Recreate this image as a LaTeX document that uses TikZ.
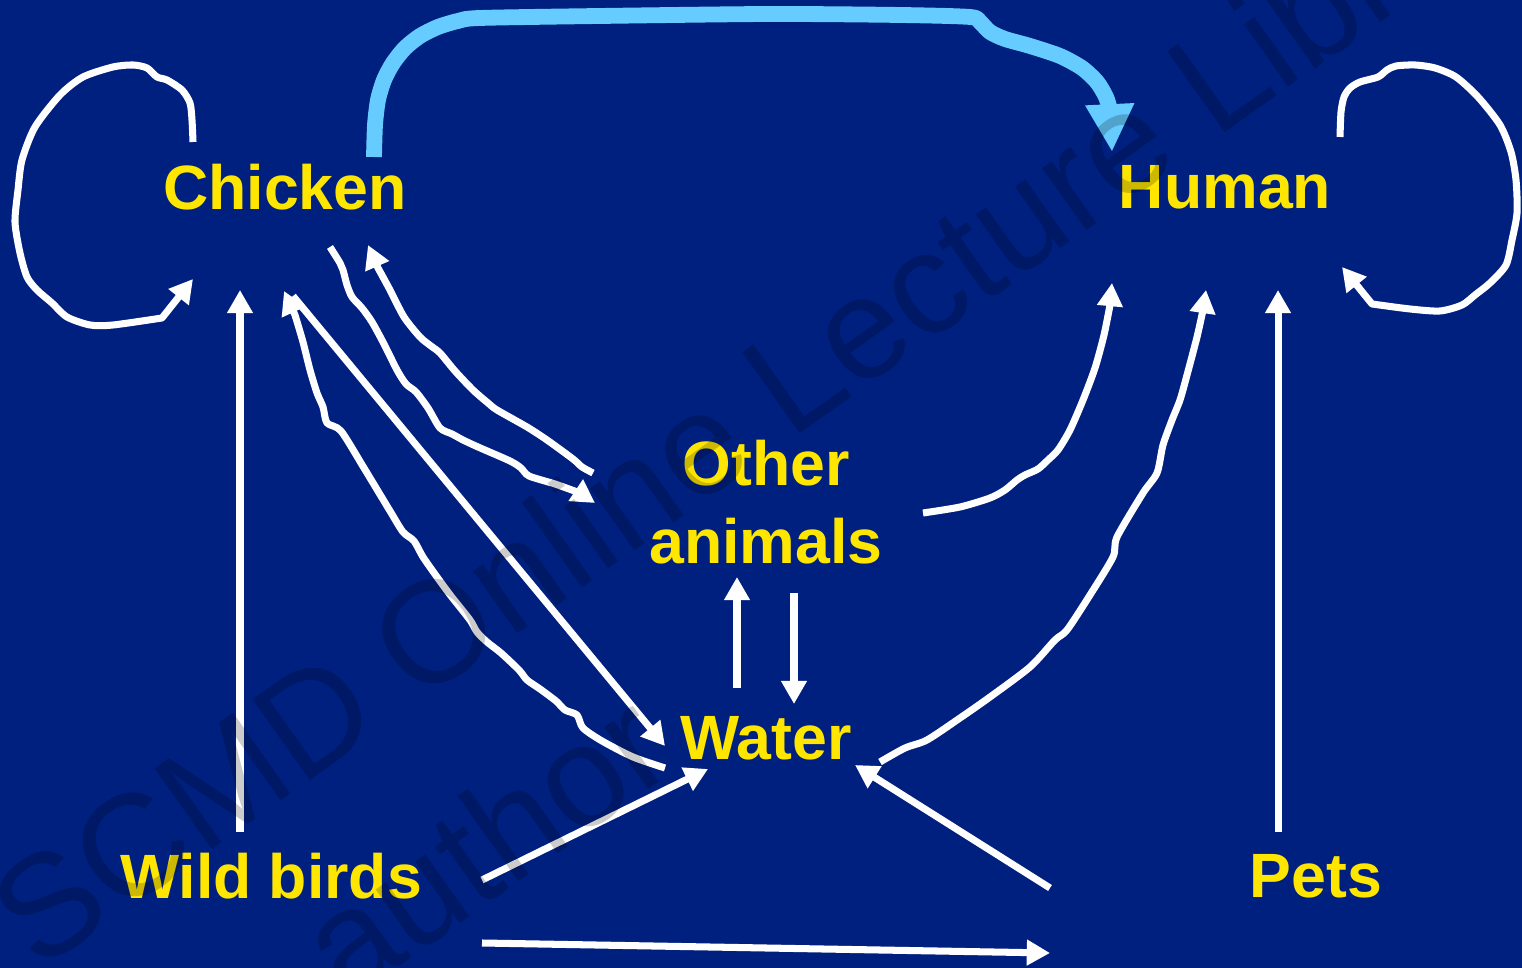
\documentclass[tikz,border=0pt]{standalone}
\usepackage{fontspec}
\setmainfont{Liberation Sans}
\usetikzlibrary{arrows.meta}
\definecolor{bgblue}{RGB}{0,32,128}
\definecolor{hostyel}{RGB}{255,230,0}
\definecolor{flowblue}{RGB}{102,204,255}
\tikzset{
  lbl/.style={font=\fontsize{17.8}{22}\selectfont\bfseries, text=hostyel, inner sep=0pt, align=center},
  warr/.style={-{Triangle[length=6.6pt, width=7pt]}, white, line width=2pt, line join=round},
  barr/.style={-{Triangle[length=13.6pt, width=13pt]}, flowblue, line width=4.5pt, line join=round},
  wob/.style={smooth, tension=0.45},
  wmark/.style={font=\fontsize{41}{49}\selectfont, text=black, text opacity=0.2,
      anchor=base west, rotate=35.3, inner sep=0pt},
}

\begin{document}
\begin{tikzpicture}[x=0.01cm, y=-0.01cm]
\fill[bgblue] (0,0) rectangle (1522,968);
\useasboundingbox (0,0) rectangle (1522,968);
\clip (0,0) rectangle (1522,968);
%---- hosts and reservoirs
\node[lbl] (chicken) at (285,187) {Chicken};
\node[lbl] (human) at (1225,187) {Human};
\node[lbl] (other) at (766,502) {Other\\animals};
\node[lbl] (water) at (766,738) {Water};
\node[lbl] (wild) at (271,876) {Wild birds};
\node[lbl] (pets) at (1316,876) {Pets};
%---- arrow ends
\coordinate (chkLoopA) at (193,142);  \coordinate (chkLoopB) at (193,279);
\coordinate (humLoopA) at (1340,137); \coordinate (humLoopB) at (1342,267);
\coordinate (blueA) at (374,157);     \coordinate (blueB) at (1112,152);
\coordinate (chkOthA) at (330,247);   \coordinate (chkOthB) at (595,503);
\coordinate (othChkA) at (593,473);   \coordinate (othChkB) at (368,245);
\coordinate (watChkA) at (665,768);   \coordinate (watChkB) at (284,291);
\coordinate (chkWatA) at (293,296);   \coordinate (chkWatB) at (665,746);
\coordinate (wildChkA) at (240,832);  \coordinate (wildChkB) at (240,290);
\coordinate (othUpA) at (737,688);    \coordinate (othUpB) at (737,577);
\coordinate (othDnA) at (794,593);    \coordinate (othDnB) at (794,704);
\coordinate (othHumA) at (923,513);   \coordinate (othHumB) at (1112,283);
\coordinate (watHumA) at (880,762);   \coordinate (watHumB) at (1206,290);
\coordinate (petHumA) at (1278,832);  \coordinate (petHumB) at (1278,290);
\coordinate (wildWatA) at (482,880);  \coordinate (wildWatB) at (708,769);
\coordinate (srcR) at (1050,888);     \coordinate (srcWatB) at (855,765);
\coordinate (wildBotA) at (482,943);  \coordinate (botR) at (1050,953);
%---- self loops
\draw[warr] plot[wob] coordinates {(chkLoopA) (192,120) (190,103) (182,90) (167,80) (157,77)
  (147,68) (133,65) (113,67) (83,77) (60,95) (35,127) (22,160) (18,190) (15,222) (20,253)
  (27,277) (37,290) (52,303) (67,317) (90,325) (113,325) (162,318)} -- (chkLoopB);
\draw[warr] plot[wob] coordinates {(humLoopA) (1341,112) (1344,97) (1350,88) (1360,82)
  (1378,77) (1387,70) (1396,66) (1415,65) (1435,68) (1456,77) (1478,97) (1500,125)
  (1511,152) (1516,180) (1517,213) (1512,240) (1506,265) (1490,283) (1475,295) (1462,305)
  (1440,311) (1410,309) (1372,304)} -- (humLoopB);
%---- chicken to human
\draw[barr] plot[wob] coordinates {(blueA) (375,125) (378,100) (384,80) (393,63) (405,48)
  (420,36) (438,27) (458,21) (480,18) (600,16) (770,14) (900,15) (970,17) (980,22) (990,32)
  (1005,39) (1030,46) (1060,56) (1082,68) (1097,82) (1106,97) (1110,110)} -- (blueB);
%---- chicken and other animals
\draw[warr] plot[wob] coordinates {(chkOthA) (340,263) (343,270) (347,285) (352,297)
  (362,308) (372,322) (384,344) (397,370) (406,384) (416,392) (428,408) (440,428) (452,434)
  (463,440) (478,447) (510,461) (521,468) (529,476) (555,484) (580,493)} -- (chkOthB);
\draw[warr] plot[wob] coordinates {(othChkA) (582,467) (573,459) (547,440) (527,427)
  (497,410) (488,403) (473,390) (455,371) (440,353) (431,346) (420,337) (404,317) (390,290)
  (378,268)} -- (othChkB);
%---- chicken and water
\draw[warr] plot[wob] coordinates {(watChkA) (633,757) (602,741) (583,728) (577,715)
  (565,710) (556,701) (540,689) (527,680) (519,670) (501,653) (487,642) (477,632) (470,620)
  (451,596) (437,577) (423,557) (414,541) (403,532) (390,511) (364,468) (341,431) (327,423)
  (323,407) (317,393) (310,370) (303,342) (295,315)} -- (watChkB);
\draw[warr] (chkWatA) -- (chkWatB);
\draw[warr] (wildChkA) -- (wildChkB);
%---- other animals and water
\draw[warr] (othUpA) -- (othUpB);
\draw[warr] (othDnA) -- (othDnB);
%---- into human
\draw[warr] plot[wob] coordinates {(othHumA) (960,507) (990,498) (1005,490) (1017,480)
  (1025,475) (1038,469) (1048,460) (1058,450) (1070,430) (1083,400) (1095,368) (1104,335)
  (1110,305)} -- (othHumB);
\draw[warr] plot[wob] coordinates {(watHumA) (905,748) (927,740) (960,718) (990,697)
  (1030,667) (1055,640) (1067,630) (1090,595) (1113,557) (1117,537) (1143,493) (1157,473)
  (1163,445) (1172,420) (1180,400) (1187,375) (1197,337) (1203,310)} -- (watHumB);
\draw[warr] (petHumA) -- (petHumB);
%---- into water, bottom row
\draw[warr] (wildWatA) -- (wildWatB);
\draw[warr] (srcR) -- (srcWatB);
\draw[warr] (wildBotA) -- (botR);
%---- watermark
\node[wmark] (wmA) at (38,973) {SCMD Online Lecture Library};
\node[wmark] (wmB) at (346,1004) {author};
\end{tikzpicture}
\end{document}
